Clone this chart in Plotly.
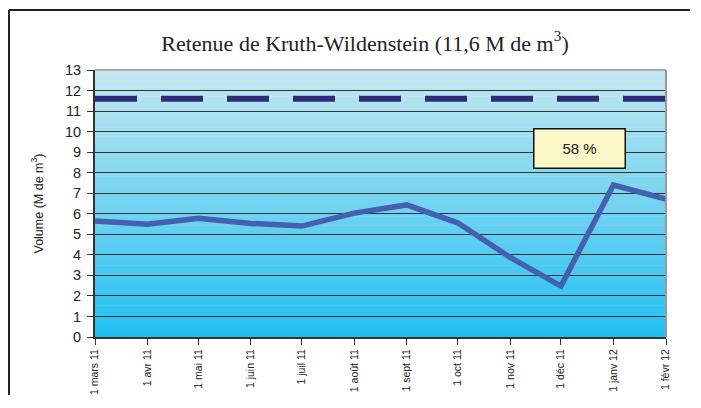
import plotly.graph_objects as go

dates = ["2011-03-01", "2011-04-01", "2011-05-01", "2011-06-01", "2011-07-01", "2011-08-01",
         "2011-09-01", "2011-10-01", "2011-11-01", "2011-12-01", "2012-01-01", "2012-02-01"]
tick_labels = ["1 mars 11", "1 avr 11", "1 mai 11", "1 juin 11", "1 juil 11", "1 août 11",
               "1 sept 11", "1 oct 11", "1 nov 11", "1 déc 11", "1 janv 12", "1 févr 12"]
volume = [5.65, 5.49, 5.78, 5.53, 5.40, 6.03, 6.43, 5.56, 3.88, 2.48, 7.40, 6.72]
capacity = [11.6] * len(dates)
fill_label = "58 %"

W, H = 682, 387
L, T = 87, 62
PW, PH = 571, 267

fig = go.Figure()

# gradient background as thin rectangles (below grid)
top = (196, 231, 240)
bot = (34, 192, 241)
n = 60
shapes = []
for i in range(n):
    t = i / (n - 1)
    c = tuple(round(bot[k] + (top[k] - bot[k]) * t) for k in range(3))
    shapes.append(dict(type="rect", xref="paper", yref="paper", x0=0, x1=1,
                       y0=i / n, y1=(i + 1) / n + 0.002, line=dict(width=0),
                       fillcolor="rgb(%d,%d,%d)" % c, layer="below"))
# outer frame: left and top edges only (the rest lies beyond the picture)
fx = (1 - L) / PW
fy = 1 + (T - 2) / PH
fx_end = (W - L) / PW
fy_end = -(H - T - PH) / PH
shapes.append(dict(type="line", xref="paper", yref="paper", x0=fx, x1=fx,
                   y0=fy_end, y1=fy, line=dict(color="#222", width=2), layer="above"))
shapes.append(dict(type="line", xref="paper", yref="paper", x0=fx, x1=fx_end,
                   y0=fy, y1=fy, line=dict(color="#222", width=2), layer="above"))
# right/top gray border of plot area
shapes.append(dict(type="line", xref="paper", yref="paper", x0=1, x1=1, y0=0, y1=1,
                   line=dict(color="#999", width=2), layer="above"))
shapes.append(dict(type="line", xref="paper", yref="paper", x0=0, x1=1, y0=1, y1=1,
                   line=dict(color="#999", width=1.5), layer="above"))

fig.add_trace(go.Scatter(x=dates, y=capacity, mode="lines",
                         line=dict(color="#2E2C78", width=6, dash="42px,24px"),
                         hoverinfo="skip", showlegend=False))
fig.add_trace(go.Scatter(x=dates, y=volume, mode="lines",
                         line=dict(color="#4560AE", width=5.5),
                         showlegend=False))

fig.update_layout(
    width=W, height=H,
    margin=dict(l=L, r=W - L - PW, t=T, b=H - T - PH),
    paper_bgcolor="white", plot_bgcolor="rgba(0,0,0,0)",
    shapes=shapes,
    title=dict(text="Retenue de Kruth-Wildenstein (11,6 M de m<sup>3</sup>)",
               x=357 / W, xanchor="center", y=1 - 35 / H, yanchor="middle",
               font=dict(family="Liberation Serif", size=22, color="#222")),
    font=dict(family="Liberation Sans", color="#222"),
    annotations=[dict(text=fill_label, xref="paper", yref="y", x=0.849, y=9.2,
                      xanchor="center", yanchor="middle",
                      showarrow=False, font=dict(family="Liberation Sans", size=15, color="#222"),
                      bgcolor="#FAF8C8", bordercolor="#111", borderwidth=1.5,
                      width=88, height=36)],
)
fig.update_xaxes(type="date", range=["2011-03-01", "2012-02-01"],
                 tickvals=dates, ticktext=tick_labels, tickangle=-90,
                 tickfont=dict(size=10.5, family="Liberation Sans", color="#222"),
                 ticks="outside", ticklen=6, tickcolor="#333", automargin=False,
                 showgrid=False, showline=True, linecolor="#333", linewidth=2,
                 zeroline=False, fixedrange=True)
fig.update_yaxes(range=[0, 13], tickvals=list(range(14)),
                 tickfont=dict(size=14.5, family="Liberation Sans", color="#222"),
                 ticks="outside", ticklen=6, tickcolor="#333", ticklabelstandoff=3,
                 showgrid=True, gridcolor="#333", gridwidth=1, automargin=False,
                 showline=True, linecolor="#333", linewidth=2, zeroline=False,
                 title=dict(text="Volume (M de m<sup>3</sup>)", standoff=19,
                            font=dict(size=12.5, family="Liberation Sans", color="#222")),
                 fixedrange=True)

fig.write_html("out.html")
